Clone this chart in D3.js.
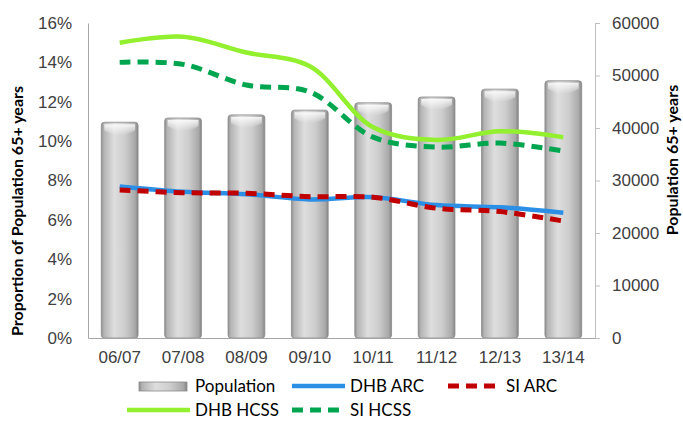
<!DOCTYPE html>
<meta charset="utf-8">
<style>
body { margin: 0; background: #fff; }
svg { font-family: Lato, "Open Sans", sans-serif; }
.tick text { font-size: 17px; fill: #404040; }
.axis-title { font-size: 16px; font-weight: bold; fill: #000; }
.legend text { font-size: 17px; fill: #000; }
</style>
<body>
<script src="https://d3js.org/d3.v7.min.js"></script>
<script>
// chart data
var years = ["06/07", "07/08", "08/09", "09/10", "10/11", "11/12", "12/13", "13/14"];
var population = [41100, 41900, 42500, 43400, 44800, 45900, 47400, 49000];
var dhbArc  = [7.70, 7.43, 7.30, 7.04, 7.15, 6.75, 6.64, 6.36];
var siArc   = [7.52, 7.38, 7.35, 7.18, 7.15, 6.59, 6.42, 5.94];
var dhbHcss = [15.0, 15.3, 14.5, 13.8, 10.7, 10.06, 10.5, 10.2];
var siHcss  = [14.0, 13.9, 12.85, 12.5, 10.2, 9.7, 9.9, 9.5];
var leftTicks = [0, 2, 4, 6, 8, 10, 12, 14, 16];
var rightTicks = [0, 10000, 20000, 30000, 40000, 50000, 60000];

var W = 683, H = 421;
var plot = {left: 88, right: 595, top: 23, bottom: 338};

var svg = d3.select("body").append("svg")
    .attr("width", W)
    .attr("height", H);

var x = d3.scaleBand().domain(years).range([plot.left, plot.right]).paddingInner(0.42).paddingOuter(0.21);
var yL = d3.scaleLinear().domain([0, 16]).range([plot.bottom, plot.top]);
var yR = d3.scaleLinear().domain([0, 60000]).range([plot.bottom, plot.top]);

// bar gradient (cylinder look)
var defs = svg.append("defs");
var grad = defs.append("linearGradient").attr("id", "barGrad")
    .attr("x1", "0%").attr("x2", "100%").attr("y1", "0%").attr("y2", "0%");
[[0, "#8e8e8e"], [0.07, "#b4b4b4"], [0.35, "#dedede"], [0.65, "#cdcdcd"], [0.92, "#a9a9a9"], [1, "#858585"]]
  .forEach(function(s) { grad.append("stop").attr("offset", s[0]).attr("stop-color", s[1]); });
var topGrad = defs.append("linearGradient").attr("id", "topGrad")
    .attr("x1", "0%").attr("x2", "0%").attr("y1", "0%").attr("y2", "100%");
topGrad.append("stop").attr("offset", 0).attr("stop-color", "#ffffff").attr("stop-opacity", 0.85);
topGrad.append("stop").attr("offset", 1).attr("stop-color", "#ffffff").attr("stop-opacity", 0);

// bars
var bars = svg.append("g");
bars.selectAll("rect.bar")
    .data(population).enter()
  .append("rect")
    .attr("class", "bar")
    .attr("x", function(d, i) { return x(years[i]); })
    .attr("y", function(d) { return yR(d); })
    .attr("width", x.bandwidth())
    .attr("height", function(d) { return plot.bottom - yR(d); })
    .attr("rx", 3)
    .attr("fill", "url(#barGrad)")
    .attr("stroke", "#8a8a8a")
    .attr("stroke-width", 0.8);
bars.selectAll("path.hl")
    .data(population).enter()
  .append("path")
    .attr("class", "hl")
    .attr("d", function(d, i) {
      var x0 = x(years[i]) + 3, x1 = x(years[i]) + x.bandwidth() - 3, y0 = yR(d) + 2;
      return "M" + x0 + "," + y0 + "L" + x1 + "," + y0 + "L" + x1 + "," + (y0 + 6) +
        "Q" + (x0 + x1) / 2 + "," + (y0 + 16) + " " + x0 + "," + (y0 + 6) + "Z";
    })
    .attr("fill", "url(#topGrad)");

// axes
var axL = svg.append("g").attr("transform", "translate(" + plot.left + ",0)")
    .call(d3.axisLeft(yL).tickValues(leftTicks).tickSize(0).tickPadding(16).tickFormat(function(d) { return d + "%"; }));
axL.select(".domain").attr("stroke", "#a6a6a6");

var axR = svg.append("g").attr("transform", "translate(" + plot.right + ",0)")
    .call(d3.axisRight(yR).tickValues(rightTicks).tickSize(5).tickSizeOuter(0).tickPadding(12).tickFormat(d3.format("d")));
axR.select(".domain").attr("stroke", "#bfbfbf");
axR.selectAll(".tick line").attr("stroke", "#bfbfbf");

var axB = svg.append("g").attr("transform", "translate(0," + plot.bottom + ")")
    .call(d3.axisBottom(x).tickSize(0).tickPadding(13));
axB.select(".domain").attr("stroke", "#a6a6a6");

// axis titles
svg.append("text").attr("class", "axis-title")
    .attr("transform", "translate(23,211) rotate(-90)")
    .attr("text-anchor", "middle")
    .text("Proportion of Population 65+ years");
svg.append("text").attr("class", "axis-title")
    .attr("transform", "translate(678,160) rotate(-90)")
    .attr("text-anchor", "middle")
    .text("Population 65+ years");

// lines
var series = [
  {name: "DHB ARC", values: dhbArc, color: "#2b8fe6", dash: null},
  {name: "SI ARC", values: siArc, color: "#c00000", dash: "11,7"},
  {name: "DHB HCSS", values: dhbHcss, color: "#92f02e", dash: null},
  {name: "SI HCSS", values: siHcss, color: "#00a550", dash: "11,7"}
];
var line = d3.line()
    .x(function(d, i) { return x(years[i]) + x.bandwidth() / 2; })
    .y(function(d) { return yL(d); })
    .curve(d3.curveCatmullRom.alpha(0.5));

svg.append("g").selectAll("path")
    .data(series).enter()
  .append("path")
    .attr("d", function(s) { return line(s.values); })
    .attr("fill", "none")
    .attr("stroke", function(s) { return s.color; })
    .attr("stroke-width", function(s) { return s.dash ? 5 : 4.5; })
    .attr("stroke-dasharray", function(s) { return s.dash; });

// legend
var legend = svg.append("g").attr("class", "legend");
var items = [
  {name: "Population", x0: 139, x1: 187, tx: 195, y: 386, type: "bar"},
  {name: "DHB ARC", x0: 292, x1: 345, tx: 350, y: 386, s: series[0]},
  {name: "SI ARC", x0: 448, x1: 502, tx: 506, y: 386, s: series[1]},
  {name: "DHB HCSS", x0: 127, x1: 190, tx: 195, y: 410, s: series[2]},
  {name: "SI HCSS", x0: 292, x1: 345, tx: 350, y: 410, s: series[3]}
];
items.forEach(function(it) {
  var g = legend.append("g");
  if (it.type === "bar") {
    g.append("rect").attr("x", it.x0).attr("y", it.y - 4).attr("width", it.x1 - it.x0).attr("height", 9)
      .attr("fill", "url(#barGrad)").attr("stroke", "#8a8a8a").attr("stroke-width", 0.8);
  } else {
    g.append("line").attr("x1", it.x0).attr("x2", it.x1).attr("y1", it.y).attr("y2", it.y)
      .attr("stroke", it.s.color).attr("stroke-width", it.s.dash ? 5 : 4.5)
      .attr("stroke-dasharray", it.s.dash);
  }
  g.append("text").attr("x", it.tx).attr("y", it.y).attr("dy", "0.35em").text(it.name);
});
</script>
</body>
